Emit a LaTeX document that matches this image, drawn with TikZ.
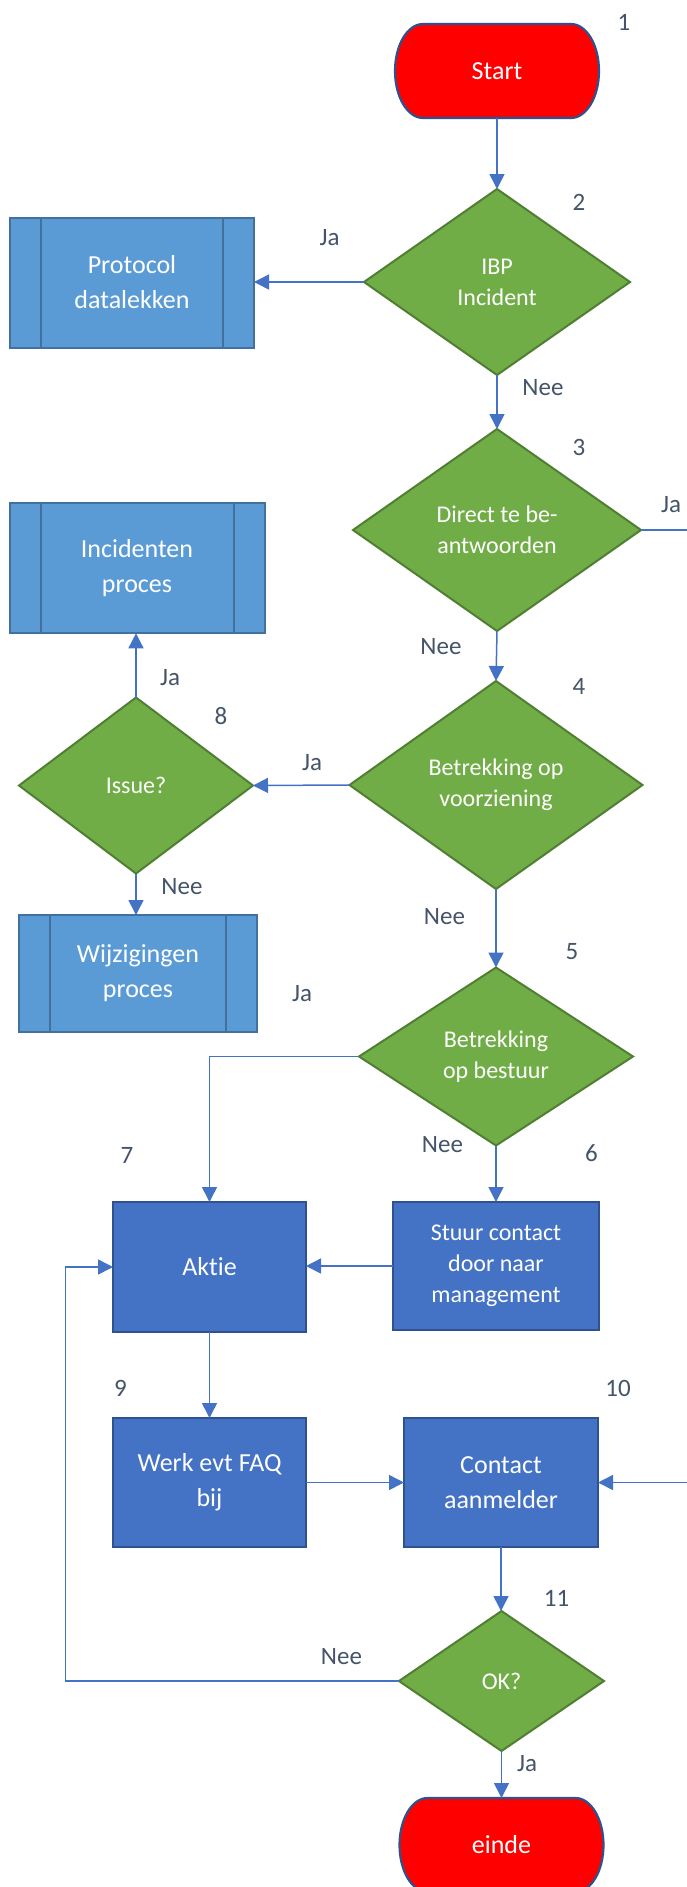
\documentclass[tikz,border=0pt]{standalone}
\usepackage{fontspec}
\setmainfont{Carlito}[Ligatures=NoCommon]
\usetikzlibrary{arrows.meta,shapes.geometric,backgrounds}

\definecolor{termred}{HTML}{FF0000}
\definecolor{darkedge}{HTML}{2F528F}
\definecolor{decfill}{HTML}{70AD47}
\definecolor{decedge}{HTML}{507E32}
\definecolor{subfill}{HTML}{5B9BD5}
\definecolor{subedge}{HTML}{41719C}
\definecolor{procfill}{HTML}{4472C4}
\definecolor{linkcol}{HTML}{4472C4}
\definecolor{labelcol}{HTML}{44546A}

\tikzset{
  x=1pt, y=1pt,
  every node/.style={inner sep=0pt, outer sep=0pt, align=center},
  termtext/.style={minimum width=204pt, minimum height=94pt, text=white,
    font=\fontsize{26}{35}\selectfont},
  termshape/.style={fill=termred, draw=darkedge, line width=2.2pt},
  decision/.style={diamond, fill=decfill, draw=decedge, line width=2pt,
    text=white, font=\fontsize{24}{31}\selectfont},
  subproc/.style={rectangle, fill=subfill, draw=subedge, line width=2pt,
    text=white, font=\fontsize{26}{35}\selectfont},
  process/.style={rectangle, fill=procfill, draw=darkedge, line width=2pt,
    text=white, font=\fontsize{26}{35}\selectfont},
  lbl/.style={text=labelcol, font=\fontsize{25}{30}\selectfont},
  link/.style={draw=linkcol, line width=1.5pt},
  arrow/.style={link, -{Triangle[length=15pt, width=15pt]}},
}

% outline of a start/end terminal, drawn behind its node
\newcommand\termoutline[1]{%
  \begin{scope}[on background layer]
    \draw[termshape] ([xshift=28pt]#1.north west) -- ([xshift=-28pt]#1.north east)
      arc[start angle=90, end angle=-90, x radius=28pt, y radius=47pt]
      -- ([xshift=28pt]#1.south west)
      arc[start angle=270, end angle=90, x radius=28pt, y radius=47pt] -- cycle;
  \end{scope}}

% the two inner bars of a predefined-process box
\newcommand\sidebars[1]{%
  \draw[draw=subedge, line width=2pt]
    ([xshift=31pt]#1.north west) -- ([xshift=31pt]#1.south west)
    ([xshift=-31pt]#1.north east) -- ([xshift=-31pt]#1.south east);}

\begin{document}
\begin{tikzpicture}
  \begin{scope}[on background layer]
    \fill[white] (0,0) rectangle (687,-1887);
  \end{scope}
  \useasboundingbox (0,0) rectangle (687,-1887);

  % terminals
  \node[termtext] (start) at (497,-71) {Start};
  \termoutline{start}
  \node[termtext] (einde) at (501.5,-1845) {einde};
  \termoutline{einde}

  % decisions
  \node[decision, minimum width=266pt, minimum height=186pt] (ibp) at (497,-282) {IBP\\Incident};
  \node[decision, minimum width=288pt, minimum height=202pt] (direct) at (497,-530) {Direct te be-\\antwoorden};
  \node[decision, minimum width=293pt, minimum height=208pt] (voorz) at (496,-785) {Betrekking op\\voorziening};
  \node[decision, minimum width=234pt, minimum height=176pt] (issue) at (136,-785.5) {Issue?};
  \node[decision, minimum width=274pt, minimum height=178pt] (bestuur) at (496,-1056.5) {Betrekking\\op bestuur};
  \node[decision, minimum width=205pt, minimum height=140pt] (ok) at (501.5,-1681) {OK?};

  % predefined processes
  \node[subproc, minimum width=244pt, minimum height=130pt] (protocol) at (132,-282.5) {Protocol\\datalekken};
  \sidebars{protocol}
  \node[subproc, minimum width=255pt, minimum height=130pt] (incid) at (137,-568.3) {Incidenten\\proces};
  \sidebars{incid}
  \node[subproc, minimum width=238pt, minimum height=117pt] (wijz) at (138,-973.5) {Wijzigingen\\proces};
  \sidebars{wijz}

  % processes
  \node[process, minimum width=193pt, minimum height=130pt] (aktie) at (209.5,-1267) {Aktie};
  \node[process, minimum width=206pt, minimum height=128pt,
        font=\fontsize{24}{31}\selectfont] (stuur) at (496,-1266) {Stuur contact\\door naar\\management};
  \node[process, minimum width=193pt, minimum height=129pt] (werk) at (209.5,-1482.5) {Werk evt FAQ\\bij};
  \node[process, minimum width=194pt, minimum height=129pt] (contact) at (501,-1482.5) {Contact\\aanmelder};

  % free ends and bends
  \coordinate (directout) at (687,-530);
  \coordinate (contactin) at (687,-1482.5);
  \coordinate (loopc) at (65.7,-1681);

  % connectors
  \draw[arrow] (start.south) -- (ibp.north);
  \draw[arrow] (ibp.west) -- (protocol.east |- ibp.west);
  \draw[arrow] (ibp.south) -- (direct.north);
  \draw[link] (direct.east) -- (directout);
  \draw[arrow] (direct.south) -- (voorz.north);
  \draw[arrow] (voorz.west) -- (issue.east);
  \draw[arrow] (issue.north) -- (incid.south -| issue.north);
  \draw[arrow] (issue.south) -- (wijz.north -| issue.south);
  \draw[arrow] (voorz.south) -- (bestuur.north);
  \draw[arrow] (bestuur.west) -| (aktie.north);
  \draw[arrow] (bestuur.south) -- (stuur.north);
  \draw[arrow] (stuur.west) -- (aktie.east |- stuur.west);
  \draw[arrow] (aktie.south) -- (werk.north);
  \draw[arrow] (werk.east) -- (contact.west);
  \draw[arrow] (contactin) -- (contact.east);
  \draw[arrow] (contact.south) -- (ok.north -| contact.south);
  \draw[arrow] (ok.south) -- (einde.north);
  \draw[arrow] (ok.west) -- (loopc) |- (aktie.west);

  % step numbers
  \node[lbl] (n1) at (624,-22) {1};
  \node[lbl] (n2) at (579,-202) {2};
  \node[lbl] (n3) at (579,-447) {3};
  \node[lbl] (n4) at (579,-686) {4};
  \node[lbl] (n5) at (572,-952) {5};
  \node[lbl] (n6) at (591.5,-1153) {6};
  \node[lbl] (n7) at (127,-1155) {7};
  \node[lbl] (n8) at (221,-716) {8};
  \node[lbl] (n9) at (120.5,-1388) {9};
  \node[lbl] (n10) at (618,-1388) {10};
  \node[lbl] (n11) at (556.5,-1598) {11};

  % answer labels
  \node[lbl] (ja1) at (329.5,-238) {Ja};
  \node[lbl] (nee1) at (543,-388) {Nee};
  \node[lbl] (ja2) at (671,-505) {Ja};
  \node[lbl] (nee2) at (441,-647) {Nee};
  \node[lbl] (ja3) at (312,-763) {Ja};
  \node[lbl] (ja4) at (170,-678) {Ja};
  \node[lbl] (nee3) at (182,-887) {Nee};
  \node[lbl] (nee4) at (444.5,-917) {Nee};
  \node[lbl] (ja5) at (302,-994) {Ja};
  \node[lbl] (nee5) at (442.5,-1145) {Nee};
  \node[lbl] (nee6) at (341.5,-1657) {Nee};
  \node[lbl] (ja6) at (527,-1764) {Ja};
\end{tikzpicture}
\end{document}
